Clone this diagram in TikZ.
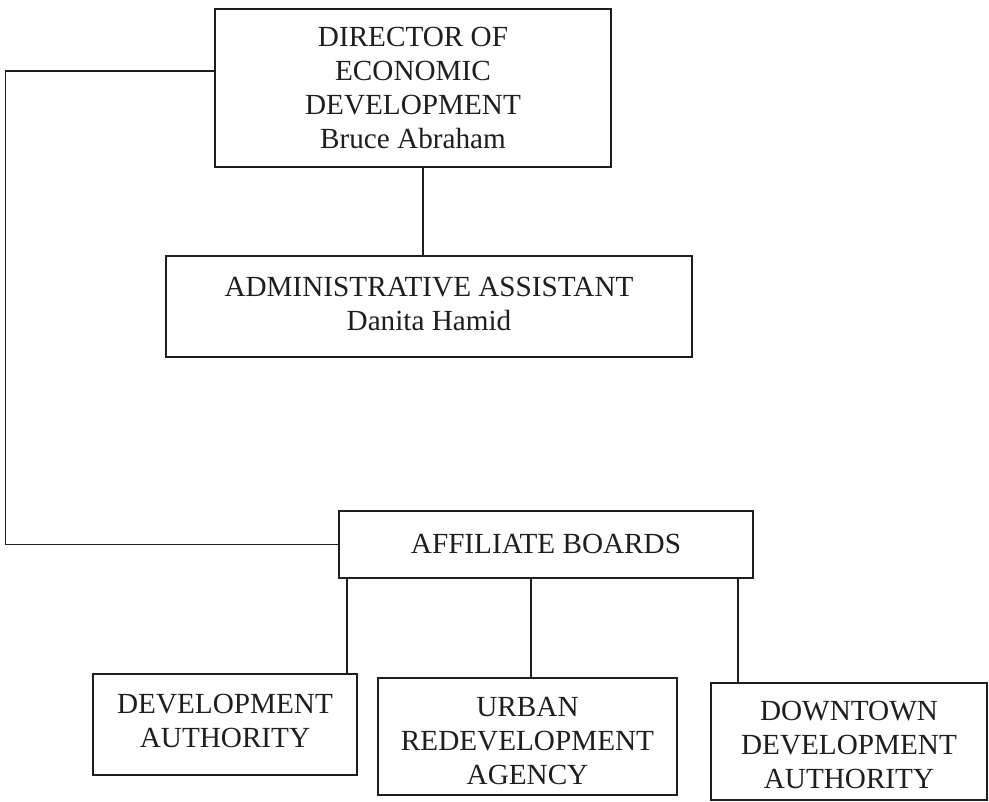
\documentclass[tikz,border=0pt]{standalone}
\usepackage{fontspec}
\setmainfont{Liberation Serif}
\definecolor{ink}{HTML}{1E1E1E}
\tikzset{
  orgbox/.style={draw=ink, line width=1.4pt, rectangle, inner sep=0pt},
  boxtext/.style={inner sep=0pt, align=center, text=ink,
    font=\fontsize{29.2}{34}\selectfont},
  link/.style={draw=ink, line width=1.4pt}
}
\begin{document}
\begin{tikzpicture}[x=1pt, y=-1pt]
  \useasboundingbox (0,0) rectangle (989,802);

  % boxes
  \node[orgbox, minimum width=396pt, minimum height=158pt] (dir) at (413,88) {};
  \node[orgbox, minimum width=526pt, minimum height=101pt] (adm) at (429,306.5) {};
  \node[orgbox, minimum width=414pt, minimum height=67pt] (aff) at (546,544.5) {};
  \node[orgbox, minimum width=264pt, minimum height=101pt] (da) at (225,724.5) {};
  \node[orgbox, minimum width=299pt, minimum height=117pt] (urb) at (527.5,736.5) {};
  \node[orgbox, minimum width=276pt, minimum height=117pt] (dt) at (849,741.5) {};

  % box texts
  \node[boxtext] (dirT) at (dir.center)
    {DIRECTOR OF\\ECONOMIC\\DEVELOPMENT\\Bruce Abraham};
  \node[boxtext] (admT) at ([yshift=3pt]adm.center)
    {ADMINISTRATIVE ASSISTANT\\Danita Hamid};
  \node[boxtext] (affT) at ([yshift=1pt]aff.center) {AFFILIATE BOARDS};
  \node[boxtext] (daT) at ([yshift=4pt]da.center) {DEVELOPMENT\\AUTHORITY};
  \node[boxtext] (urbT) at ([yshift=-5pt]urb.center) {URBAN\\REDEVELOPMENT\\AGENCY};
  \node[boxtext] (dtT) at ([yshift=-3pt]dt.center) {DOWNTOWN\\DEVELOPMENT\\AUTHORITY};

  % connectors
  \draw[link] ([xshift=10pt]dir.south) -- ([xshift=10pt]dir.south |- adm.north);
  \draw[link] ([yshift=17pt]dir.west) -- ++(-209,0) |- (aff.west);
  \draw[link] (aff.south -| 347,0) -- (da.north -| 347,0);
  \draw[link] (aff.south -| 531,0) -- (urb.north -| 531,0);
  \draw[link] (aff.south -| 738,0) -- (dt.north -| 738,0);
\end{tikzpicture}
\end{document}
